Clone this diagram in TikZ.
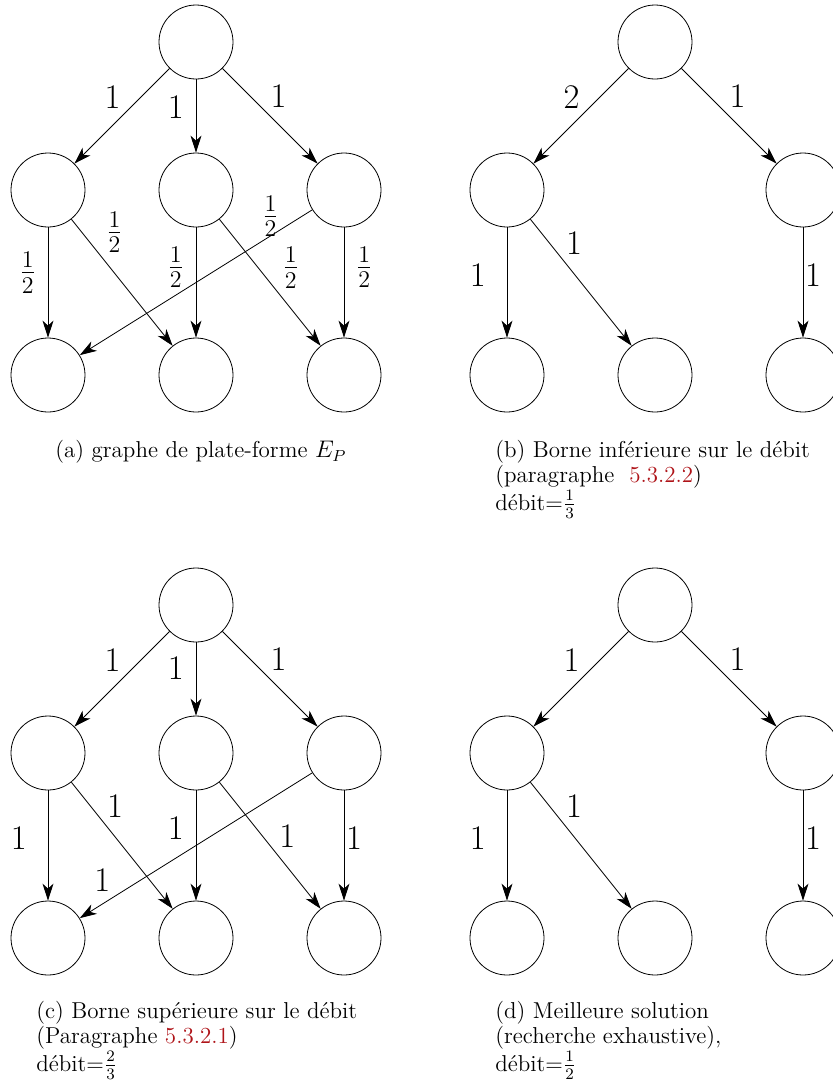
\documentclass[tikz,border=0pt]{standalone}
\usepackage{tikz}
\usetikzlibrary{arrows.meta, positioning}
\definecolor{refRed}{RGB}{175, 20, 25}

\tikzset{
  site/.style={circle, draw, minimum size=37pt, inner sep=0pt},
  flow/.style={-{Stealth[length=8.5pt, width=5.5pt, inset=2.5pt]}},
  wlab/.style={font=\LARGE, inner sep=2pt},
  legend/.style={align=left, anchor=north west, inner sep=0pt,
    font=\fontsize{11.5pt}{12.6pt}\selectfont},
}

\begin{document}
\begin{tikzpicture}[x=0.5pt, y=-0.5pt]
  \useasboundingbox (0,0) rectangle (833,1083);

  % Full graph: one root, three relays, three leaves
  \foreach \g/\dy in {a/0, c/563} {
    \begin{scope}[shift={(0,\dy)}]
      \foreach \n/\x/\y in {0/196/42, 1/48/190, 2/196/190, 3/344/190,
                            4/48/375, 5/196/375, 6/344/375}
        \node[site] (\g\n) at (\x,\y) {};
    \end{scope}
  }
  % Tree: one root, two relays, three leaves
  \foreach \g/\dy in {b/0, d/563} {
    \begin{scope}[shift={(459,\dy)}]
      \foreach \n/\x/\y in {0/196/42, 1/48/190, 2/344/190,
                            3/48/375, 4/196/375, 5/344/375}
        \node[site] (\g\n) at (\x,\y) {};
    \end{scope}
  }

  % (a)
  \draw[flow] (a0) -- node[wlab, pos=0.47, above left] {1} (a1);
  \draw[flow] (a0) -- node[wlab, pos=0.38, left=3.9pt] {1} (a2);
  \draw[flow] (a0) -- node[wlab, pos=0.46, above right] {1} (a3);
  \draw[flow] (a1) -- node[wlab, pos=0.41, left=3.8pt] {$\frac{1}{2}$} (a4);
  \draw[flow] (a1) -- node[wlab, pos=0.30, above right] {$\frac{1}{2}$} (a5);
  \draw[flow] (a2) -- node[wlab, pos=0.36, left=3.8pt] {$\frac{1}{2}$} (a5);
  \draw[flow] (a2) -- node[wlab, pos=0.58, above right] {$\frac{1}{2}$} (a6);
  \draw[flow] (a3) -- node[wlab, pos=0.18, above=-2.6pt] {$\frac{1}{2}$} (a4);
  \draw[flow] (a3) -- node[wlab, pos=0.36, right=3.8pt] {$\frac{1}{2}$} (a6);

  % (b)
  \draw[flow] (b0) -- node[wlab, pos=0.47, above left] {2} (b1);
  \draw[flow] (b0) -- node[wlab, pos=0.46, above right] {1} (b2);
  \draw[flow] (b1) -- node[wlab, pos=0.43, left=8.4pt] {1} (b3);
  \draw[flow] (b1) -- node[wlab, pos=0.31, above right] {1} (b4);
  \draw[flow] (b2) -- node[wlab, pos=0.43, right=-1.1pt] {1} (b5);

  % (c)
  \draw[flow] (c0) -- node[wlab, pos=0.47, above left] {1} (c1);
  \draw[flow] (c0) -- node[wlab, pos=0.35, left=3.9pt] {1} (c2);
  \draw[flow] (c0) -- node[wlab, pos=0.46, above right] {1} (c3);
  \draw[flow] (c1) -- node[wlab, pos=0.43, left=8.4pt] {1} (c4);
  \draw[flow] (c1) -- node[wlab, pos=0.31, above right] {1} (c5);
  \draw[flow] (c2) -- node[wlab, pos=0.34, left=3.9pt] {1} (c5);
  \draw[flow] (c2) -- node[wlab, pos=0.55, above right] {1} (c6);
  \draw[flow] (c3) -- node[wlab, pos=0.85, above left] {1} (c4);
  \draw[flow] (c3) -- node[wlab, pos=0.43, right=-1.1pt] {1} (c6);

  % (d)
  \draw[flow] (d0) -- node[wlab, pos=0.47, above left] {1} (d1);
  \draw[flow] (d0) -- node[wlab, pos=0.46, above right] {1} (d2);
  \draw[flow] (d1) -- node[wlab, pos=0.43, left=8.4pt] {1} (d3);
  \draw[flow] (d1) -- node[wlab, pos=0.31, above right] {1} (d4);
  \draw[flow] (d2) -- node[wlab, pos=0.43, right=-1.1pt] {1} (d5);

  % Captions
  \node[legend] (capA) at (55,440) {(a) graphe de plate-forme $E_P$};
  \node[legend] (capB) at (495,440) {(b) Borne inférieure sur le débit\\
    (paragraphe\ \ \textcolor{refRed}{5.3.2.2})\\débit=$\frac{1}{3}$};
  \node[legend] (capC) at (36,1001) {(c) Borne supérieure sur le débit\\
    (Paragraphe \textcolor{refRed}{5.3.2.1})\\débit=$\frac{2}{3}$};
  \node[legend] (capD) at (495,1001) {(d) Meilleure solution\\
    (recherche exhaustive),\\débit=$\frac{1}{2}$};
\end{tikzpicture}
\end{document}
